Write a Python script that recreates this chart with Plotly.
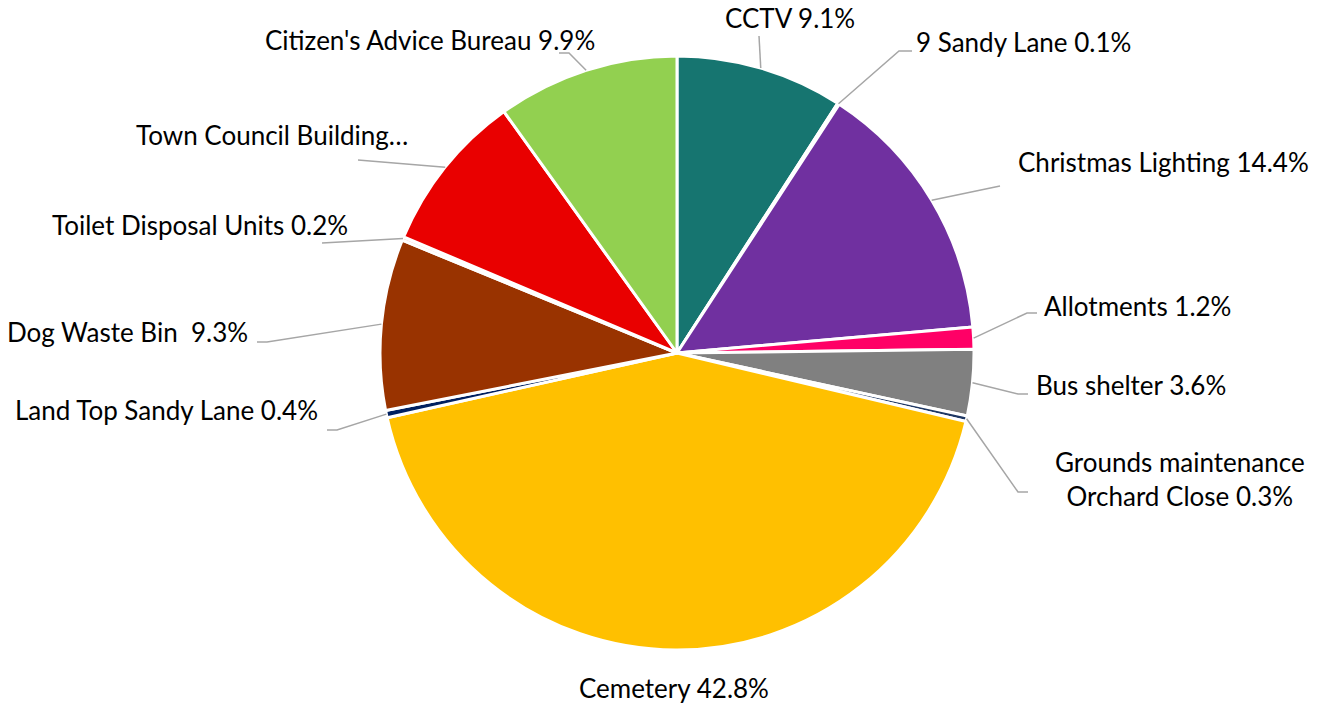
import math
import plotly.graph_objects as go

# spend by heading, clockwise from 12 o'clock (percent of total)
labels = ["CCTV", "9 Sandy Lane", "Christmas Lighting", "Allotments", "Bus shelter",
          "Grounds maintenance Orchard Close", "Cemetery", "Land Top Sandy Lane",
          "Dog Waste Bin", "Toilet Disposal Units", "Town Council Building", "Citizen's Advice Bureau"]
values = [9.1, 0.1, 14.4, 1.2, 3.6, 0.3, 42.8, 0.4, 9.3, 0.2, 8.7, 9.9]
label_text = ["CCTV 9.1%", "9 Sandy Lane 0.1%", "Christmas Lighting 14.4%", "Allotments 1.2%",
              "Bus shelter 3.6%", "Grounds maintenance<br>Orchard Close 0.3%", "Cemetery 42.8%",
              "Land Top Sandy Lane 0.4%", "Dog Waste Bin  9.3%", "Toilet Disposal Units 0.2%",
              "Town Council Building…", "Citizen's Advice Bureau 9.9%"]
colors = ["#167570", "#F2F2F2", "#7030A0", "#FF0066", "#808080", "#1F3864",
          "#FFC000", "#002060", "#993300", "#FFD0D0", "#E90000", "#92D050"]

W, H = 1318, 704
CX, CY, R = 677, 353, 297

# label placement (pixels): text x, text y, anchor, leader-line bend points
label_pos = [
    (790, 18, "center", [(759, 36)]),
    (914, 42, "left", [(899, 51), (912, 51)]),
    (1016, 162, "left", [(1000, 186)]),
    (1042, 306, "left", [(1027, 313), (1037, 313)]),
    (1034, 385, "left", [(1018, 394), (1028, 394)]),
    (1180, 479, "center", [(1018, 492), (1028, 492)]),
    (674, 688, "center", []),
    (320, 410, "right", [(337, 430), (327, 430)]),
    (250, 332, "right", [(267, 342), (257, 342)]),
    (350, 225, "right", [(322, 243)]),
    (410, 135, "right", [(358, 160)]),
    (597, 40, "right", [(569, 53), (559, 53)]),
]


def px(x, y):
    return x / W, 1 - y / H


fig = go.Figure()
fig.add_trace(go.Pie(
    labels=labels, values=values, sort=False, direction="clockwise", rotation=0,
    marker=dict(colors=colors, line=dict(color="white", width=3)),
    textinfo="none", hoverinfo="label+percent", showlegend=False,
    domain=dict(x=[(CX - R) / W, (CX + R) / W], y=[1 - (CY + R) / H, 1 - (CY - R) / H]),
))

total = sum(values)
cum = 0
annotations = []
shapes = []
for v, txt, (tx, ty, anchor, bends) in zip(values, label_text, label_pos):
    mid = (cum + v / 2) / total * 2 * math.pi
    cum += v
    sx = CX + R * math.sin(mid)
    sy = CY - R * math.cos(mid)
    if bends:
        pts = [(sx, sy)] + bends
        path = "M " + " L ".join(f"{px(a, b)[0]},{px(a, b)[1]}" for a, b in pts)
        shapes.append(dict(type="path", path=path, xref="paper", yref="paper",
                           line=dict(color="#A6A6A6", width=1.5)))
    ax, ay = px(tx, ty)
    annotations.append(dict(x=ax, y=ay, xref="paper", yref="paper", text=txt,
                            showarrow=False, xanchor=anchor, yanchor="middle",
                            align="center", font=dict(size=26, color="#000000")))

fig.update_layout(
    width=W, height=H, margin=dict(l=0, r=0, t=0, b=0),
    paper_bgcolor="white", plot_bgcolor="white",
    font=dict(family="Lato, sans-serif"),
    annotations=annotations, shapes=shapes,
)
fig.write_html("out.html", config={"displayModeBar": False},
               post_script="document.body.style.margin='0';document.body.style.overflow='hidden';")
